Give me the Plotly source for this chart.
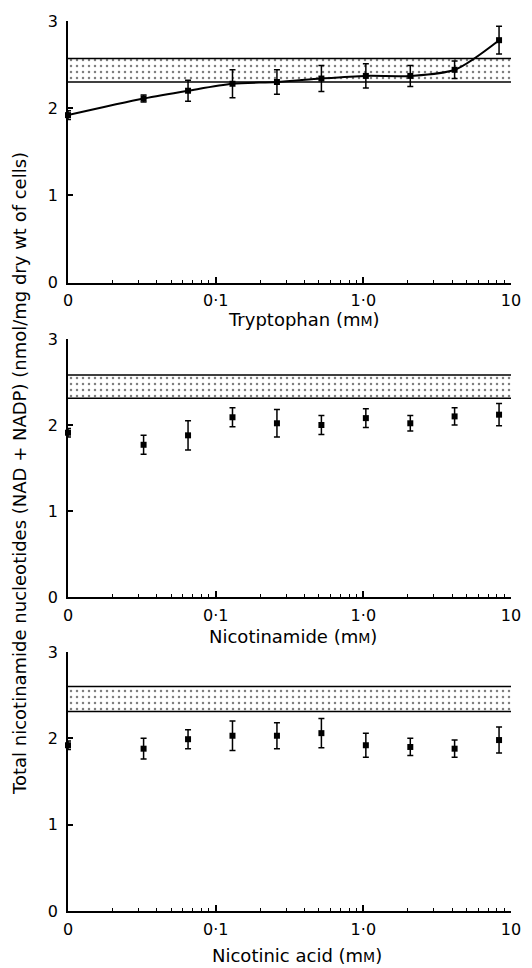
import plotly.graph_objects as go

# ---------------- data ----------------
conc = [0, 0.0325, 0.065, 0.13, 0.26, 0.52, 1.04, 2.08, 4.15, 8.3]

trp_mean = [1.92, 2.11, 2.20, 2.28, 2.30, 2.34, 2.37, 2.37, 2.44, 2.78]
trp_err = [0.05, 0.04, 0.12, 0.16, 0.14, 0.15, 0.14, 0.12, 0.10, 0.16]

nam_mean = [1.91, 1.77, 1.88, 2.09, 2.02, 2.00, 2.08, 2.02, 2.10, 2.12]
nam_err = [0.05, 0.11, 0.17, 0.11, 0.16, 0.11, 0.11, 0.09, 0.10, 0.13]

na_mean = [1.92, 1.88, 1.99, 2.03, 2.03, 2.06, 1.92, 1.90, 1.88, 1.98]
na_err = [0.05, 0.12, 0.11, 0.17, 0.15, 0.17, 0.14, 0.10, 0.10, 0.15]

band_low = [2.30, 2.31, 2.31]
band_high = [2.57, 2.58, 2.60]

x_titles = ["Tryptophan", "Nicotinamide", "Nicotinic acid"]
x_tick_vals = [0, 0.1, 1.0, 10]
x_tick_text = ["0", "0·1", "1·0", "10"]
y_tick_vals = [0, 1, 2, 3]
y_title = "Total nicotinamide nucleotides (NAD + NADP) (nmol/mg dry wt of cells)"

# ---------------- layout helpers ----------------
W, H = 524, 960          # page adds an 8 px body margin
ML, MR = 60, 21
PW = W - ML - MR
ZERO_POS = 0.01  # where the "0" concentration is drawn on the log axis
FONT = "DejaVu Sans, Liberation Sans, Arial, sans-serif"
FS_TICK = 16
FS_TITLE = 18

def xpos(v):
    return [ZERO_POS if c == 0 else c for c in v]

# pixel positions of each panel (top of y=3, bottom at y=0)
panel_px = [(13, 274.5), (331, 589), (644, 903)]
title_dy = [37, 39, 44]
title_cx = [296, 284.5, 288.5]
domains = [[1 - b / H, 1 - t / H] for t, b in panel_px]

means = [trp_mean, nam_mean, na_mean]
errs = [trp_err, nam_err, na_err]

minor_vals = [m * 10 ** e for e in (-2, -1, 0) for m in range(2, 10)]

fig = go.Figure()

for i in range(3):
    xa = "x" if i == 0 else f"x{i+1}"
    ya = "y" if i == 0 else f"y{i+1}"
    # dotted band
    fig.add_trace(go.Scatter(
        x=[ZERO_POS, 10, 10, ZERO_POS, ZERO_POS],
        y=[band_low[i], band_low[i], band_high[i], band_high[i], band_low[i]],
        mode="none", fill="toself", fillcolor="white",
        fillpattern=dict(shape=".", size=6, solidity=0.14, fgcolor="black", bgcolor="white"),
        xaxis=xa, yaxis=ya, showlegend=False, hoverinfo="skip"))
    for yb in (band_low[i], band_high[i]):
        fig.add_trace(go.Scatter(
            x=[ZERO_POS, 10], y=[yb, yb], mode="lines",
            line=dict(color="black", width=1.5),
            xaxis=xa, yaxis=ya, showlegend=False, hoverinfo="skip"))
    fig.add_trace(go.Scatter(
        x=xpos(conc), y=means[i],
        mode="lines+markers" if i == 0 else "markers",
        line=dict(color="black", width=2, shape="spline", smoothing=0.8),
        marker=dict(symbol="square", size=6, color="black"),
        error_y=dict(type="data", array=errs[i], color="black", thickness=1.5, width=3),
        cliponaxis=False,
        xaxis=xa, yaxis=ya, showlegend=False))

    fig.layout[("xaxis" if i == 0 else f"xaxis{i+1}")] = dict(
        type="log", range=[-2, 1], anchor=ya, automargin=False,
        tickmode="array", tickvals=xpos(x_tick_vals), ticktext=x_tick_text,
        ticks="inside", ticklen=6, tickwidth=1.5, tickcolor="black",
        minor=dict(tickmode="array", tickvals=minor_vals, ticks="inside",
                   ticklen=3, tickwidth=1.2, tickcolor="black"),
        showline=True, linecolor="black", linewidth=1.5,
        showgrid=False, zeroline=False,
        tickfont=dict(family=FONT, size=FS_TICK, color="black"),
        ticklabelstandoff=3,
    )
    fig.layout[("yaxis" if i == 0 else f"yaxis{i+1}")] = dict(
        range=[0, 3], domain=domains[i], anchor=xa, automargin=False,
        tickmode="array", tickvals=y_tick_vals,
        ticks="inside", ticklen=5, tickwidth=1.5, tickcolor="black",
        showline=True, linecolor="black", linewidth=1.5,
        showgrid=False, zeroline=False,
        tickfont=dict(family=FONT, size=FS_TICK, color="black"),
        ticklabelstandoff=5,
    )
    # x-axis title
    fig.add_annotation(
        xref="paper", yref="paper",
        x=(title_cx[i] - ML) / PW, y=1 - (panel_px[i][1] + title_dy[i]) / H,
        text=f"{x_titles[i]} (m<span style='font-size:14px'>M</span>)",
        showarrow=False, xanchor="center", yanchor="middle",
        font=dict(family=FONT, size=FS_TITLE, color="black"))

fig.add_annotation(
    xref="paper", yref="paper", x=(12 - ML) / PW, y=1 - 466 / H,
    text=y_title, textangle=-90, showarrow=False,
    xanchor="center", yanchor="middle",
    font=dict(family=FONT, size=FS_TITLE, color="black"))

fig.update_layout(
    width=W, height=H,
    margin=dict(l=ML, r=MR, t=0, b=0),
    plot_bgcolor="white", paper_bgcolor="white",
    showlegend=False,
)

fig.write_html("out.html")
